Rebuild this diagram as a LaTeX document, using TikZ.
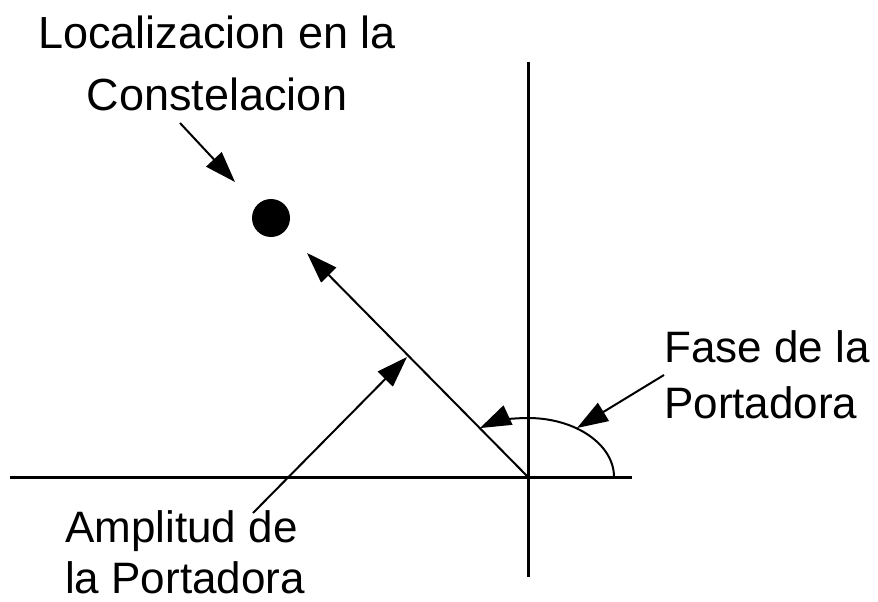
\documentclass[tikz,border=0pt]{standalone}
\usepackage{fontspec}
\setmainfont{Liberation Sans}
\usetikzlibrary{arrows.meta}

\begin{document}
\begin{tikzpicture}[
  x=1pt, y=-1pt,
  lbl/.style={font=\fontsize{44}{56}\selectfont, inner sep=0pt},
  axis/.style={line width=3pt},
  arr/.style={-{Triangle[length=31pt,width=21pt]}, line width=2pt}
]
\useasboundingbox (0,0) rectangle (878,602);
\coordinate (o) at (528,477);
\coordinate (xl) at (10,477);
\coordinate (xr) at (632,477);
\coordinate (yt) at (528,62);
\coordinate (yb) at (528,577);
\coordinate (v) at (307,253);
\coordinate (ph) at (614,477);
\node[circle, fill, minimum size=38pt, inner sep=0pt] (dot) at (271,218) {};
\node[lbl, font=\fontsize{45}{62}\selectfont, align=center] (loc) at (217,63) {Localizacion en la\\Constelacion};
\node[lbl, align=left, anchor=west] (fase) at (664,375) {Fase de la\\Portadora};
\node[lbl, font=\fontsize{44}{51}\selectfont, align=left, anchor=west] (ampl) at (65,552) {Amplitud de\\la Portadora};
\coordinate (loc-t) at (180,123);
\coordinate (loc-h) at (235,182);
\coordinate (ampl-t) at (253,513);
\coordinate (ampl-h) at (407,357);
\coordinate (fase-h) at (577,428);
% ejes
\draw[axis] (xl) -- (xr);
\draw[axis] (yt) -- (yb);
% vector y fase
\draw[arr] (o) -- (v);
\draw[arr] (ph) arc[start angle=0, end angle=124, x radius=86pt, y radius=59pt];
% flechas de las etiquetas
\draw[arr] (loc-t) -- (loc-h);
\draw[arr] (ampl-t) -- (ampl-h);
\draw[arr] (fase.west) -- (fase-h);
\end{tikzpicture}
\end{document}
